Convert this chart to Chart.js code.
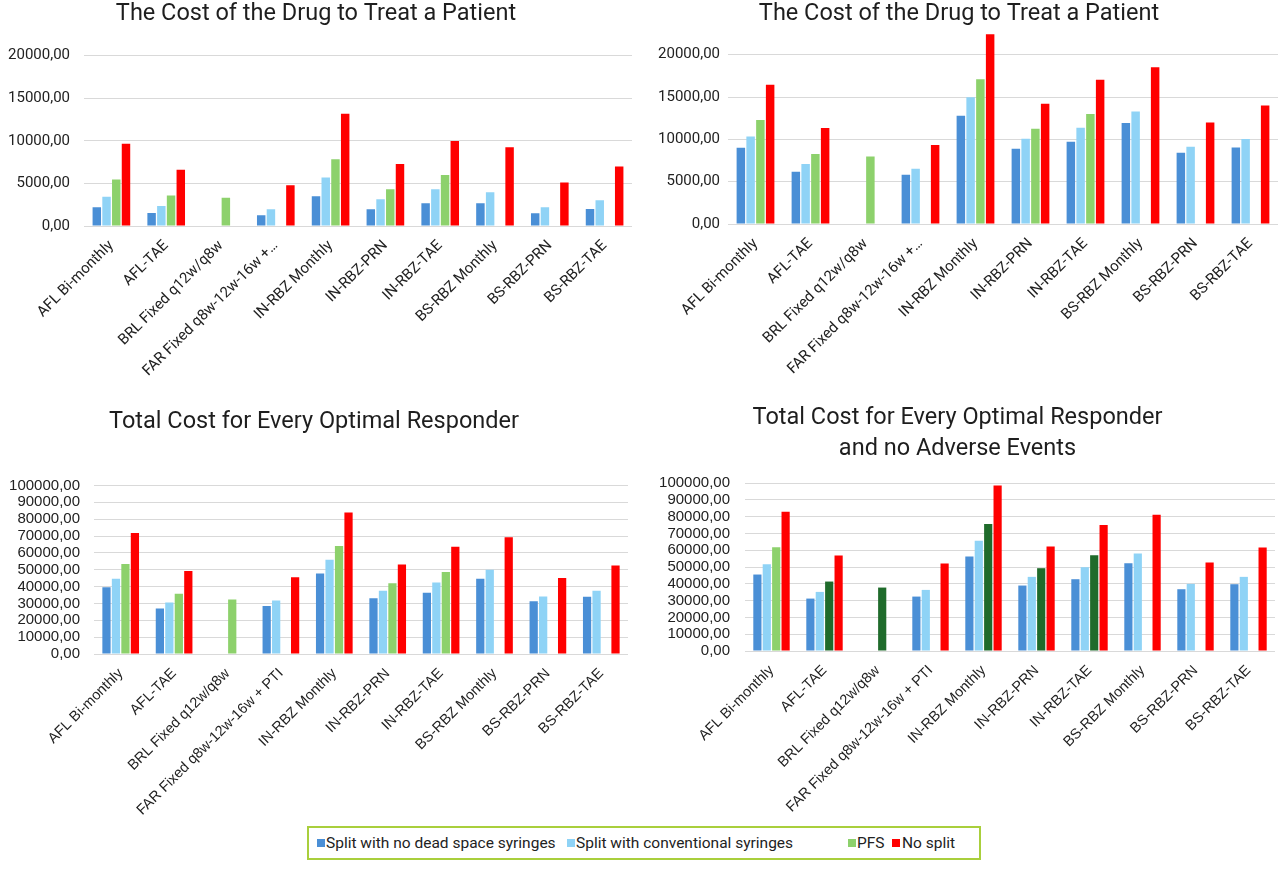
<!DOCTYPE html>
<html>
<head>
<meta charset="utf-8">
<script src="https://cdn.jsdelivr.net/npm/chart.js@4.4.1/dist/chart.umd.min.js"></script>
<style>
  html, body { margin: 0; padding: 0; background: #ffffff; }
  body { width: 1280px; height: 869px; position: relative; overflow: hidden; }
  .box { position: absolute; }
  #legend { position: absolute; left: 307px; top: 826px; width: 674px; height: 34px; border: 2px solid #a9cf3c; box-sizing: border-box; font-family: Roboto, sans-serif; font-size: 15.5px; line-height: 18px; color: #222; }
  .lg-sq { position: absolute; top: 11px; width: 8px; height: 8px; }
  .lg-tx { position: absolute; top: 6px; white-space: nowrap; }
</style>
</head>
<body>
<div class="box" style="left:0;top:0;width:640px;height:400px;"><canvas id="c1"></canvas></div>
<div class="box" style="left:640px;top:0;width:640px;height:400px;"><canvas id="c2"></canvas></div>
<div class="box" style="left:0;top:400px;width:640px;height:420px;"><canvas id="c3"></canvas></div>
<div class="box" style="left:640px;top:400px;width:640px;height:420px;"><canvas id="c4"></canvas></div>

<div id="legend">
  <div class="lg-sq" style="left:8px;background:#4a8fd6;"></div>
  <div class="lg-tx" style="left:17px;">Split with no dead space syringes</div>
  <div class="lg-sq" style="left:258px;background:#8fd3f6;"></div>
  <div class="lg-tx" style="left:267px;">Split with conventional syringes</div>
  <div class="lg-sq" style="left:539px;background:#8dd16c;"></div>
  <div class="lg-tx" style="left:548px;">PFS</div>
  <div class="lg-sq" style="left:583px;background:#ff0000;"></div>
  <div class="lg-tx" style="left:593px;">No split</div>
</div>

<script>
// ---------- categories ----------
const categoriesTop = ["AFL Bi-monthly","AFL-TAE","BRL Fixed q12w/q8w","FAR Fixed q8w-12w-16w +\u2026","IN-RBZ Monthly","IN-RBZ-PRN","IN-RBZ-TAE","BS-RBZ Monthly","BS-RBZ-PRN","BS-RBZ-TAE"];
const categoriesBottom = ["AFL Bi-monthly","AFL-TAE","BRL Fixed q12w/q8w","FAR Fixed q8w-12w-16w + PTI","IN-RBZ Monthly","IN-RBZ-PRN","IN-RBZ-TAE","BS-RBZ Monthly","BS-RBZ-PRN","BS-RBZ-TAE"];
const seriesNames = ["Split with no dead space syringes","Split with conventional syringes","PFS","No split"];

// ---------- tick values ----------
const ticksTop = [0, 5000, 10000, 15000, 20000];
const ticksBottom = [0, 10000, 20000, 30000, 40000, 50000, 60000, 70000, 80000, 90000, 100000];

// ---------- chart 1: The Cost of the Drug to Treat a Patient (left) ----------
const noDead1  = [2200, 1530, null, 1260, 3500, 1960, 2670, 2670, 1490, 2000];
const conv1    = [3420, 2360, null, 1960, 5700, 3140, 4320, 3970, 2200, 3020];
const pfs1     = [5460, 3570, 3300, null, 7820, 4320, 5970, null, null, null];
const noSplit1 = [9660, 6600, null, 4790, 13160, 7270, 9980, 9230, 5110, 6990];

// ---------- chart 2: The Cost of the Drug to Treat a Patient (right) ----------
const noDead2  = [9010, 6170, null, 5810, 12800, 8890, 9720, 11940, 8420, 9050];
const conv2    = [10320, 7075, null, 6520, 14980, 10080, 11380, 13280, 9130, 10040];
const pfs2     = [12290, 8260, 7980, null, 17110, 11260, 13000, null, null, null];
const noSplit2 = [16440, 11340, null, 9330, 22400, 14190, 17040, 18500, 11980, 13990];

// ---------- chart 3: Total Cost for Every Optimal Responder ----------
const noDead3  = [39560, 27040, null, 28430, 47800, 33130, 36310, 44640, 31350, 33930];
const conv3    = [44730, 30620, null, 31810, 55950, 37500, 42460, 50000, 34130, 37500];
const pfs3     = [53480, 35790, 32400, null, 64090, 42060, 48610, null, null, null];
const noSplit3 = [71770, 49300, null, 45530, 83930, 53170, 63690, 69250, 45040, 52580];

// ---------- chart 4: Total Cost for Every Optimal Responder and no Adverse Events ----------
const noDead4  = [45530, 31210, null, 32400, 56260, 38970, 42740, 52290, 36780, 39760];
const conv4    = [51690, 35190, null, 36380, 65600, 44140, 49900, 58050, 39960, 44140];
const pfs4     = [61830, 41350, 37770, null, 75550, 49300, 57060, null, null, null];
const noSplit4 = [82900, 56860, null, 52090, 98600, 62230, 74950, 81110, 52680, 61630];

// ---------- colours ----------
const COL_BLUE = '#4a8fd6', COL_LBLUE = '#8fd3f6', COL_GREEN = '#8dd16c', COL_DGREEN = '#1f6b2b', COL_RED = '#ff0000';

function fmt(v){ return Number(v).toFixed(2).replace('.', ','); }

function makeChart(id, o){
  const datasets = [
    { label: seriesNames[0], data: o.series[0], backgroundColor: COL_BLUE },
    { label: seriesNames[1], data: o.series[1], backgroundColor: COL_LBLUE },
    { label: seriesNames[2], data: o.series[2], backgroundColor: o.pfsColors || COL_GREEN },
    { label: seriesNames[3], data: o.series[3], backgroundColor: COL_RED }
  ];
  datasets.forEach(d => { d.categoryPercentage = 0.71; d.barPercentage = 0.87; d.borderWidth = 0; });
  return new Chart(document.getElementById(id), {
    type: 'bar',
    data: { labels: o.labels, datasets },
    options: {
      responsive: true, maintainAspectRatio: false, animation: false,
      layout: { padding: { left: 0, right: o.padRight, top: 0, bottom: 0 } },
      plugins: {
        legend: { display: false },
        tooltip: { enabled: false },
        title: {
          display: true, text: o.title, color: '#1e1e1e',
          font: { family: 'Roboto', size: 23.5, weight: 'normal', lineHeight: o.titleLH || 1.0 },
          padding: o.titlePad
        }
      },
      scales: {
        x: {
          grid: { display: false }, border: { display: false },
          ticks: { autoSkip: false, minRotation: 45, maxRotation: 45, padding: 3,
                   color: '#222', font: { family: o.tickFamily, size: o.xTickSize } },
          afterFit: s => { s.height = o.xHeight; }
        },
        y: {
          min: 0, max: o.max,
          grid: { color: '#d9d9d9', lineWidth: 1, drawTicks: false }, border: { display: false },
          ticks: { autoSkip: false, padding: o.yPad, color: '#222',
                   font: { family: o.tickFamily, size: o.yTickSize }, callback: v => fmt(v) },
          afterBuildTicks: s => { s.ticks = o.tickValues.map(v => ({ value: v })); },
          afterFit: s => { s.width = o.yWidth; }
        }
      }
    }
  });
}

makeChart('c1', {
  labels: categoriesTop, series: [noDead1, conv1, pfs1, noSplit1],
  title: 'The Cost of the Drug to Treat a Patient', titlePad: { top: 2, bottom: 30 },
  max: 20000, tickValues: ticksTop, yWidth: 84, yPad: 14, padRight: 8, xHeight: 174,
  tickFamily: 'Roboto', xTickSize: 15, yTickSize: 15
});
makeChart('c2', {
  labels: categoriesTop, series: [noDead2, conv2, pfs2, noSplit2],
  title: 'The Cost of the Drug to Treat a Patient', titlePad: { top: 2, bottom: 8 },
  max: 22500, tickValues: ticksTop, yWidth: 88, yPad: 8, padRight: 2, xHeight: 176,
  tickFamily: 'Roboto', xTickSize: 15, yTickSize: 15
});
makeChart('c3', {
  labels: categoriesBottom, series: [noDead3, conv3, pfs3, noSplit3],
  title: 'Total Cost for Every Optimal Responder', titlePad: { top: 10, bottom: 52 },
  max: 100000, tickValues: ticksBottom, yWidth: 94, yPad: 14, padRight: 12, xHeight: 166,
  tickFamily: "'Liberation Sans', Arial", xTickSize: 14.5, yTickSize: 15
});
makeChart('c4', {
  labels: categoriesBottom, series: [noDead4, conv4, pfs4, noSplit4],
  pfsColors: [COL_GREEN, COL_DGREEN, COL_DGREEN, COL_DGREEN, COL_DGREEN, COL_DGREEN, COL_DGREEN, COL_DGREEN, COL_DGREEN, COL_DGREEN],
  title: ['Total Cost for Every Optimal Responder', 'and no Adverse Events'], titleLH: 1.32, titlePad: { top: 3, bottom: 18 },
  max: 100000, tickValues: ticksBottom, yWidth: 105, yPad: 15, padRight: 5, xHeight: 169,
  tickFamily: "'Liberation Sans', Arial", xTickSize: 14.5, yTickSize: 15
});
</script>
</body>
</html>
